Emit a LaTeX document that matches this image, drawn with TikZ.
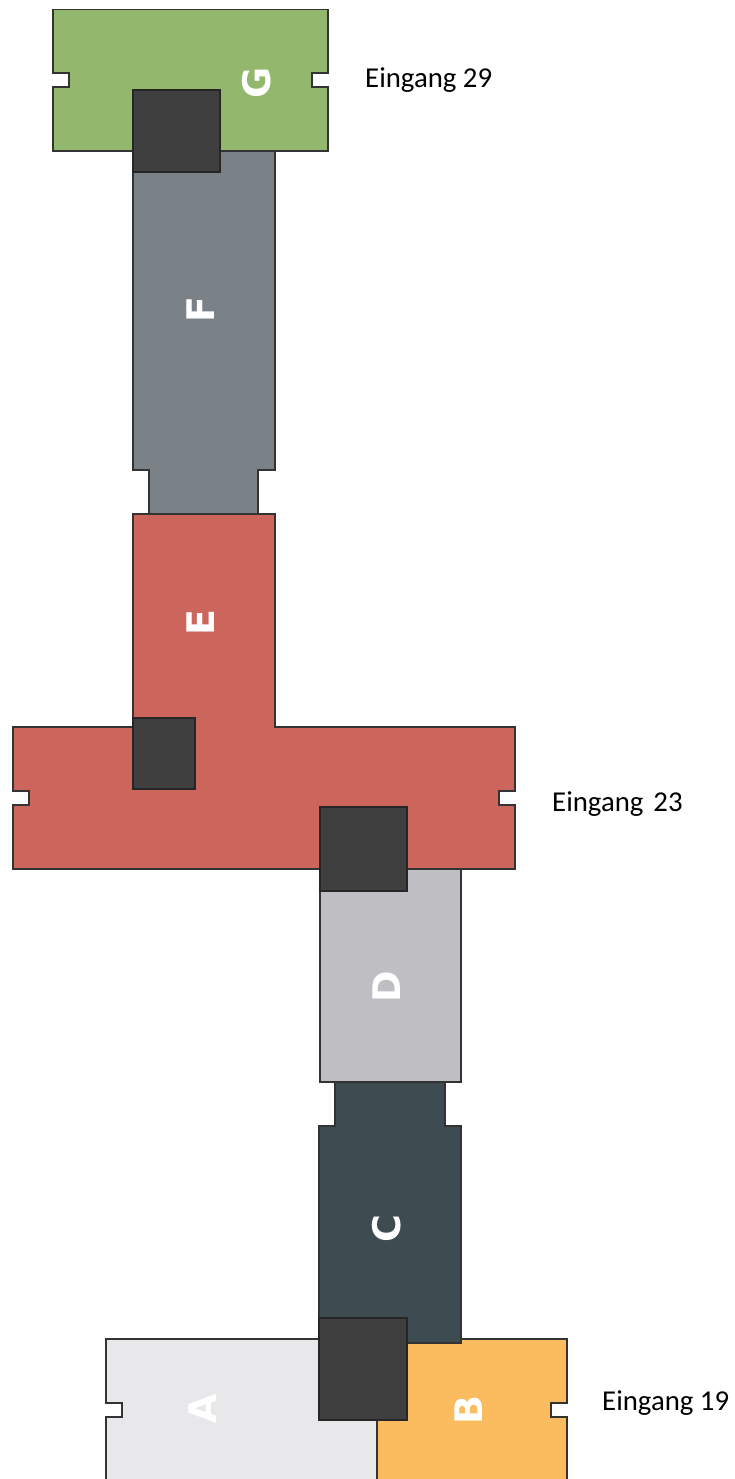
\documentclass[tikz,border=0pt]{standalone}
\usepackage{fontspec}
\setmainfont{Carlito}
\newfontfamily\lettersf{DejaVu Sans}
\definecolor{cG}{HTML}{94B76E}
\definecolor{cF}{HTML}{7A8187}
\definecolor{cE}{HTML}{CC655C}
\definecolor{cD}{HTML}{BFBEC2}
\definecolor{cC}{HTML}{3E4C51}
\definecolor{cA}{HTML}{E8E8EA}
\definecolor{cB}{HTML}{FABC5E}
\definecolor{cK}{HTML}{3F3F3F}
\definecolor{edge}{HTML}{333333}
\tikzset{
  room/.style={draw=edge,line width=1.2pt,line join=miter},
  core/.style={draw=black!85,line width=1.2pt,fill=cK},
  letter/.style={text=white,rotate=90,inner sep=0pt,font=\lettersf\bfseries\fontsize{38}{38}\selectfont},
  entry/.style={text=black,anchor=west,inner sep=0pt,font=\fontsize{28.8}{32}\selectfont}
}
\begin{document}
\begin{tikzpicture}[x=1pt,y=-1pt]
\useasboundingbox (0,0) rectangle (734,1479);
\clip (0,0) rectangle (734,1479);
\begin{scope}[xshift=-0.1pt]
% F
\draw[room,fill=cF] (133,151) -- (275,151) -- (275,470) -- (258,470) -- (258,514) -- (149,514) -- (149,470) -- (133,470) -- cycle;
% G
\draw[room,fill=cG] (53,9.5) -- (328,9.5) -- (328,73) -- (312,73) -- (312,87) -- (328,87) -- (328,151) -- (53,151) -- (53,87) -- (69,87) -- (69,73) -- (53,73) -- cycle;
% D (under E)
\draw[room,fill=cD] (320,869) -- (461,869) -- (461,1082) -- (320,1082) -- cycle;
% E
\draw[room,fill=cE] (133,514) -- (275,514) -- (275,727) -- (515,727) -- (515,791) -- (499,791) -- (499,805) -- (515,805) -- (515,869) -- (13,869) -- (13,805) -- (29,805) -- (29,791) -- (13,791) -- (13,727) -- (133,727) -- cycle;
% A, B
\draw[room,fill=cA] (106,1339) -- (377,1339) -- (377,1490) -- (106,1490) -- (106,1417) -- (122,1417) -- (122,1403) -- (106,1403) -- cycle;
\draw[room,fill=cB] (377,1339) -- (567,1339) -- (567,1403) -- (551,1403) -- (551,1417) -- (567,1417) -- (567,1490) -- (377,1490) -- cycle;
% C
\draw[room,fill=cC] (335,1082) -- (445,1082) -- (445,1126) -- (461,1126) -- (461,1343) -- (319,1343) -- (319,1126) -- (335,1126) -- cycle;
% dark cores
\draw[core] (133,90) rectangle (220,172);
\draw[core] (133,718) rectangle (195,789);
\draw[core] (320,807) rectangle (407,891);
\draw[core] (319,1318) rectangle (407,1420);
\end{scope}
% letters
\node[letter] (lG) at (257,83) {G};
\node[letter] (lF) at (201,310) {F};
\node[letter] (lE) at (201,623) {E};
\node[letter] (lD) at (387,987) {D};
\node[letter] (lC) at (387,1229) {C};
\node[letter] (lA) at (203,1409) {A};
\node[letter] (lB) at (469,1410) {B};
% entrances
\node[entry] (e29) at (365,80) {Eingang 29};
\node[entry] (e23) at (552,804) {Eingang\hspace{10pt}23};
\node[entry] (e19) at (602,1403) {Eingang 19};
\end{tikzpicture}
\end{document}
